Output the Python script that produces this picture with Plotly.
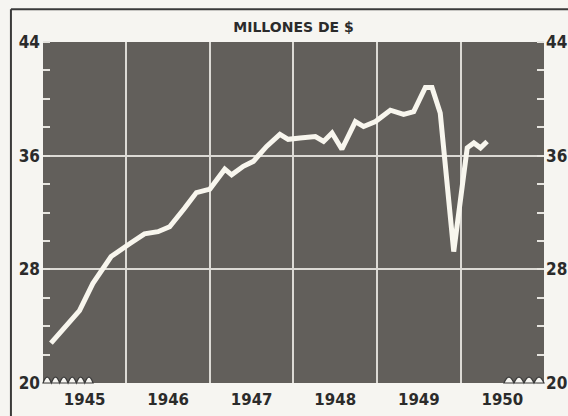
import plotly.graph_objects as go

# approximate reading of the white line (date, millions $)
fechas = [
    "1945-02-05", "1945-04-09", "1945-06-10", "1945-08-07", "1945-09-12",
    "1945-10-26", "1946-01-15", "1946-03-21", "1946-05-19", "1946-07-09",
    "1946-09-12", "1946-11-03", "1947-01-01", "1947-02-06", "1947-03-07",
    "1947-04-06", "1947-05-27", "1947-07-10", "1947-09-06", "1947-11-03",
    "1947-12-09", "1948-01-30", "1948-04-06", "1948-05-12", "1948-06-18",
    "1948-07-31", "1948-09-28", "1948-11-03", "1948-12-25", "1949-02-28",
    "1949-04-27", "1949-06-10", "1949-07-31", "1949-08-29", "1949-10-04",
    "1949-12-02", "1950-01-30", "1950-02-28", "1950-03-29", "1950-04-27",
]
millones = [
    22.8, 24.0, 25.1, 27.0, 27.9,
    28.9, 29.8, 30.5, 30.65, 31.0,
    32.3, 33.4, 33.65, 34.4, 35.05,
    34.65, 35.25, 35.6, 36.65, 37.5,
    37.15, 37.25, 37.35, 37.0, 37.6,
    36.45, 38.4, 38.05, 38.4, 39.2,
    38.9, 39.1, 40.8, 40.8, 39.0,
    29.25, 36.55, 36.9, 36.55, 37.0,
]

y_ticks = [20, 28, 36, 44]

paper = "#f6f5f1"
fondo = "#625f5b"
ink = "#2b2b2b"
num_font = dict(family="Liberation Sans Narrow, DejaVu Sans Condensed, sans-serif",
                size=17, color=ink, weight="bold")

fig = go.Figure()
fig.add_trace(go.Scatter(
    x=fechas, y=millones, mode="lines",
    line=dict(color="#f8f6ee", width=5),
    hoverinfo="skip", showlegend=False,
))


def wavy(x0, x1, n):
    # little scalloped break marks along the bottom edge
    w = (x1 - x0) / n
    p = f"M {x0},0 "
    for i in range(n):
        a = x0 + i * w
        p += f"Q {a + w / 2},0.035 {a + w},0 "
    return p + "Z"


for x0, x1, n in [(0.0, 0.1, 6), (0.92, 1.0, 4)]:
    fig.add_shape(type="path", path=wavy(x0, x1, n), xref="x domain", yref="y domain",
                  fillcolor=paper, line=dict(color="#3a3a3a", width=1.2), layer="above")

# outer frame of the printed figure
fig.add_shape(type="line", xref="paper", yref="paper", x0=-0.064, x1=1.1, y0=1.096, y1=1.096,
              line=dict(color="#3a3a3a", width=2))
fig.add_shape(type="line", xref="paper", yref="paper", x0=-0.064, x1=-0.064, y0=1.096, y1=-0.2,
              line=dict(color="#3a3a3a", width=2))

fig.update_layout(
    width=568, height=416,
    margin=dict(l=43, r=24, t=42, b=33),
    paper_bgcolor=paper,
    plot_bgcolor=fondo,
    title=dict(text="<b>MILLONES DE $</b>", x=0.5, xref="paper", y=0.935, yref="container",
               xanchor="center", yanchor="middle",
               font=dict(family="DejaVu Sans", size=14, color=ink)),
    xaxis=dict(
        type="date", automargin=False,
        range=["1945-01-01 08:00", "1950-12-31 16:00"],
        tick0="1945-01-01", dtick="M12", tickformat="%Y",
        ticklabelmode="period", ticks="", ticklabelstandoff=6,
        showgrid=True, gridcolor="#dcdad5", gridwidth=1.5,
        zeroline=False, showline=False,
        tickfont=dict(family="DejaVu Sans", size=15, color=ink, weight="bold"),
    ),
    yaxis=dict(
        range=[20, 44], tickvals=y_ticks, automargin=False,
        showgrid=True, gridcolor="#dcdad5", gridwidth=1.5,
        zeroline=False, showline=False, ticks="", ticklabelstandoff=2,
        tickfont=num_font,
        minor=dict(dtick=2, tick0=20, ticks="inside", ticklen=7, tickcolor="#e6e4df",
                   tickwidth=1.5, showgrid=False),
    ),
    yaxis2=dict(
        range=[20, 44], tickvals=y_ticks, overlaying="y", side="right", automargin=False,
        showgrid=False, zeroline=False, showline=False, ticks="", ticklabelstandoff=1,
        tickfont=num_font,
        minor=dict(dtick=2, tick0=20, ticks="inside", ticklen=7, tickcolor="#e6e4df",
                   tickwidth=1.5, showgrid=False),
    ),
)

# right-hand scale shares the same values
fig.add_trace(go.Scatter(x=[fechas[0]], y=[millones[0]], yaxis="y2", mode="lines",
                         line=dict(width=0), hoverinfo="skip", showlegend=False))

fig.write_html("out.html", config={"displayModeBar": False},
               post_script="document.body.style.margin='0';"
                           "document.body.style.background='%s';" % paper)
